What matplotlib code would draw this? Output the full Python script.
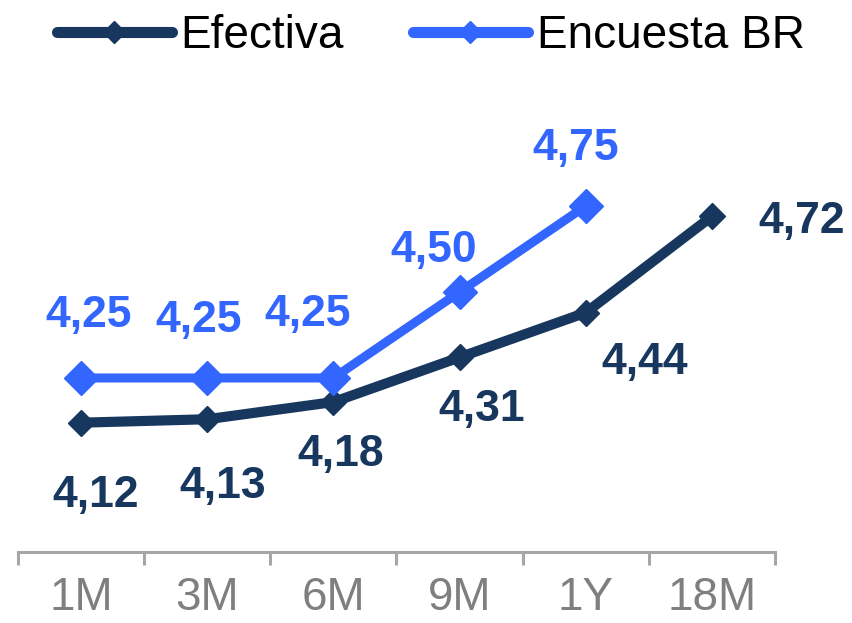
import matplotlib
matplotlib.use("Agg")
import matplotlib.pyplot as plt
from matplotlib.lines import Line2D
import numpy as np

plazos = ['1M', '3M', '6M', '9M', '1Y', '18M']
efectiva = [4.12, 4.13, 4.18, 4.31, 4.44, 4.72]
encuesta = [4.25, 4.25, 4.25, 4.50, 4.75]

# desplazamientos de las etiquetas (pixeles)
off_efectiva = [(15, -73), (15, -67), (7, -52), (22, -52), (59, -50), (90, -5)]
off_encuesta = [(8, 62), (-9, 57), (-26, 63), (-26, 41), (-10, 58)]

navy = '#17375E'
azul = '#3366FF'

plt.rcParams['font.family'] = ['Liberation Sans', 'DejaVu Sans']

fig = plt.figure(figsize=(8.53, 6.23), dpi=100)
ax = fig.add_axes([18 / 853, 1 - 552 / 623, 757 / 853, 552 / 623])

x = np.arange(len(plazos))
ax.plot(x, efectiva, color=navy, lw=7.3, marker='D', ms=13,
        solid_capstyle='round')
ax.plot(x[:len(encuesta)], encuesta, color=azul, lw=6.5, marker='D', ms=17,
        solid_capstyle='round')

for xi, v, o in zip(x, efectiva, off_efectiva):
    ax.annotate(f'{v:.2f}'.replace('.', ','), (xi, v), xytext=o,
                textcoords='offset pixels', ha='center', va='center',
                fontsize=32, fontweight='bold', color=navy)
for xi, v, o in zip(x, encuesta, off_encuesta):
    ax.annotate(f'{v:.2f}'.replace('.', ','), (xi, v), xytext=o,
                textcoords='offset pixels', ha='center', va='center',
                fontsize=32, fontweight='bold', color=azul)

ax.set_xlim(-0.5, len(plazos) - 0.5)
ax.set_ylim(3.744, 5.349)
ax.set_yticks([])
for s in ['left', 'right', 'top']:
    ax.spines[s].set_visible(False)
ax.spines['bottom'].set_color('#A6A6A6')
ax.spines['bottom'].set_linewidth(2.2)

ax.set_xticks(x)
ax.set_xticklabels(plazos)
ax.set_xticks(np.arange(-0.5, len(plazos)), minor=True)
ax.tick_params(axis='x', which='major', length=0, pad=17, labelsize=33,
               labelcolor='#7F7F7F')
ax.tick_params(axis='x', which='minor', length=9.5, width=2.2, color='#A6A6A6')

handles = [Line2D([], [], color=navy, lw=8, marker='D', ms=11,
                  solid_capstyle='round'),
           Line2D([], [], color=azul, lw=8, marker='D', ms=11,
                  solid_capstyle='round')]
fig.legend(handles, ['Efectiva', 'Encuesta BR'], loc='center',
           bbox_to_anchor=(0.505, 1 - 36 / 623), ncol=2, frameon=False,
           fontsize=33, handlelength=2.5, handletextpad=0.2,
           columnspacing=1.5, borderpad=0)

fig.savefig('out.png', dpi=100)
